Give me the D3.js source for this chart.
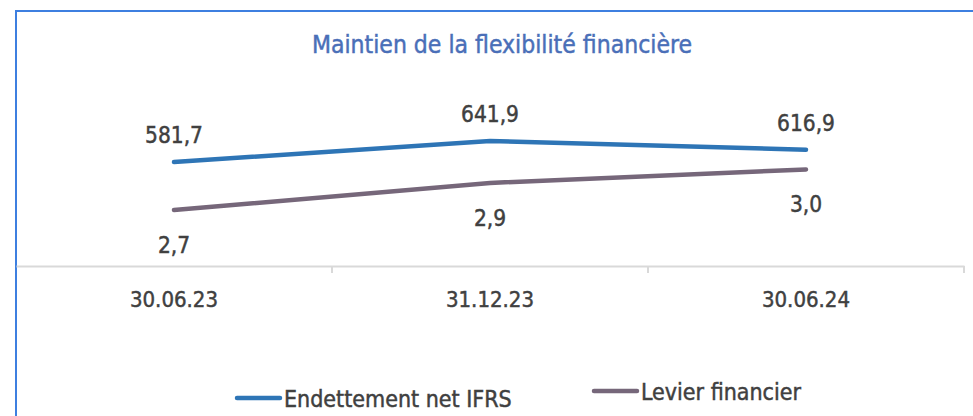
<!DOCTYPE html>
<html>
<head>
<meta charset="utf-8">
<script src="https://cdn.jsdelivr.net/npm/d3@7"></script>
<style>
  body { margin: 0; background: #fff; }
  text { font-family: "DejaVu Sans Condensed", "DejaVu Sans", sans-serif; stroke-width: 0.45px; }
</style>
</head>
<body>
<div id="chart"></div>
<script>
// Data
const categories = ["30.06.23", "31.12.23", "30.06.24"];
const endettement = [581.7, 641.9, 616.9];
const levier = [2.7, 2.9, 3.0];
const seriesNames = ["Endettement net IFRS", "Levier financier"];
const title = "Maintien de la flexibilité financière";

const W = 973, H = 416;
const textColor = "#404040";
const fmt = v => d3.format(".1f")(v).replace(".", ",");

const svg = d3.select("#chart").append("svg")
    .attr("width", W)
    .attr("height", H);

// frame (left and top edges visible)
svg.append("path")
    .attr("d", `M16,${H} L16,11 L${W},11`)
    .attr("fill", "none")
    .attr("stroke", "#3d7fe0")
    .attr("stroke-width", 2);

// scales
const x = d3.scaleBand()
    .domain(categories)
    .range([16, 964]);

const yLeft = d3.scaleLinear()
    .domain([283.7, 740])
    .range([266, 266 - (740 - 283.7) * 0.349]);

const yRight = d3.scaleLinear()
    .domain([2.285, 3.2])
    .range([266, 266 - (3.2 - 2.285) * 135]);

// x axis
const xAxis = d3.axisBottom(x).tickSize(0).tickPadding(0).tickFormat("");
const xAxisG = svg.append("g")
    .attr("transform", "translate(0,266)")
    .call(xAxis);
xAxisG.select(".domain").attr("stroke", "#d9d9d9").attr("stroke-width", 2);

// category boundary ticks
svg.selectAll(".cat-tick")
    .data(categories)
    .join("line")
    .attr("class", "cat-tick")
    .attr("x1", d => x(d) + x.bandwidth())
    .attr("x2", d => x(d) + x.bandwidth())
    .attr("y1", 266)
    .attr("y2", 273)
    .attr("stroke", "#d9d9d9")
    .attr("stroke-width", 2);

svg.selectAll(".cat-label")
    .data(categories)
    .join("text")
    .attr("class", "cat-label")
    .attr("x", d => x(d) + x.bandwidth() / 2)
    .attr("y", 307)
    .attr("text-anchor", "middle")
    .attr("font-size", 22)
    .attr("fill", textColor)
    .attr("stroke", textColor)
    .text(d => d);

// title
svg.append("text")
    .attr("x", 502)
    .attr("y", 53)
    .attr("text-anchor", "middle")
    .attr("font-size", 24.5)
    .attr("fill", "#4a6fb8")
    .attr("stroke", "#4a6fb8")
    .text(title);

const cx = (d, i) => x(categories[i]) + x.bandwidth() / 2;

const lineBlue = d3.line().x(cx).y(d => yLeft(d));
const linePurple = d3.line().x(cx).y(d => yRight(d));

svg.append("path")
    .datum(levier)
    .attr("d", linePurple)
    .attr("fill", "none")
    .attr("stroke", "#76677a")
    .attr("stroke-width", 4.5)
    .attr("stroke-linecap", "round");

svg.append("path")
    .datum(endettement)
    .attr("d", lineBlue)
    .attr("fill", "none")
    .attr("stroke", "#2e75b6")
    .attr("stroke-width", 4.5)
    .attr("stroke-linecap", "round");

// data labels
svg.selectAll(".lbl-blue")
    .data(endettement)
    .join("text")
    .attr("class", "lbl-blue")
    .attr("x", cx)
    .attr("y", d => yLeft(d) - 19)
    .attr("text-anchor", "middle")
    .attr("font-size", 22.5)
    .attr("fill", textColor)
    .attr("stroke", textColor)
    .text(fmt);

svg.selectAll(".lbl-purple")
    .data(levier)
    .join("text")
    .attr("class", "lbl-purple")
    .attr("x", cx)
    .attr("y", d => yRight(d) + 43)
    .attr("text-anchor", "middle")
    .attr("font-size", 22.5)
    .attr("fill", textColor)
    .attr("stroke", textColor)
    .text(fmt);

// legend
const legend = [
    { name: seriesNames[0], color: "#2e75b6", x: 237, y: 398 },
    { name: seriesNames[1], color: "#76677a", x: 594, y: 391 }
];
const lg = svg.selectAll(".legend")
    .data(legend)
    .join("g")
    .attr("class", "legend")
    .attr("transform", d => `translate(${d.x},${d.y})`);
lg.append("line")
    .attr("x1", 0).attr("x2", 43)
    .attr("stroke", d => d.color)
    .attr("stroke-width", 4.5)
    .attr("stroke-linecap", "round");
lg.append("text")
    .attr("x", 47)
    .attr("y", 8.5)
    .attr("font-size", 23)
    .attr("fill", textColor)
    .attr("stroke", textColor)
    .text(d => d.name);
</script>
</body>
</html>
